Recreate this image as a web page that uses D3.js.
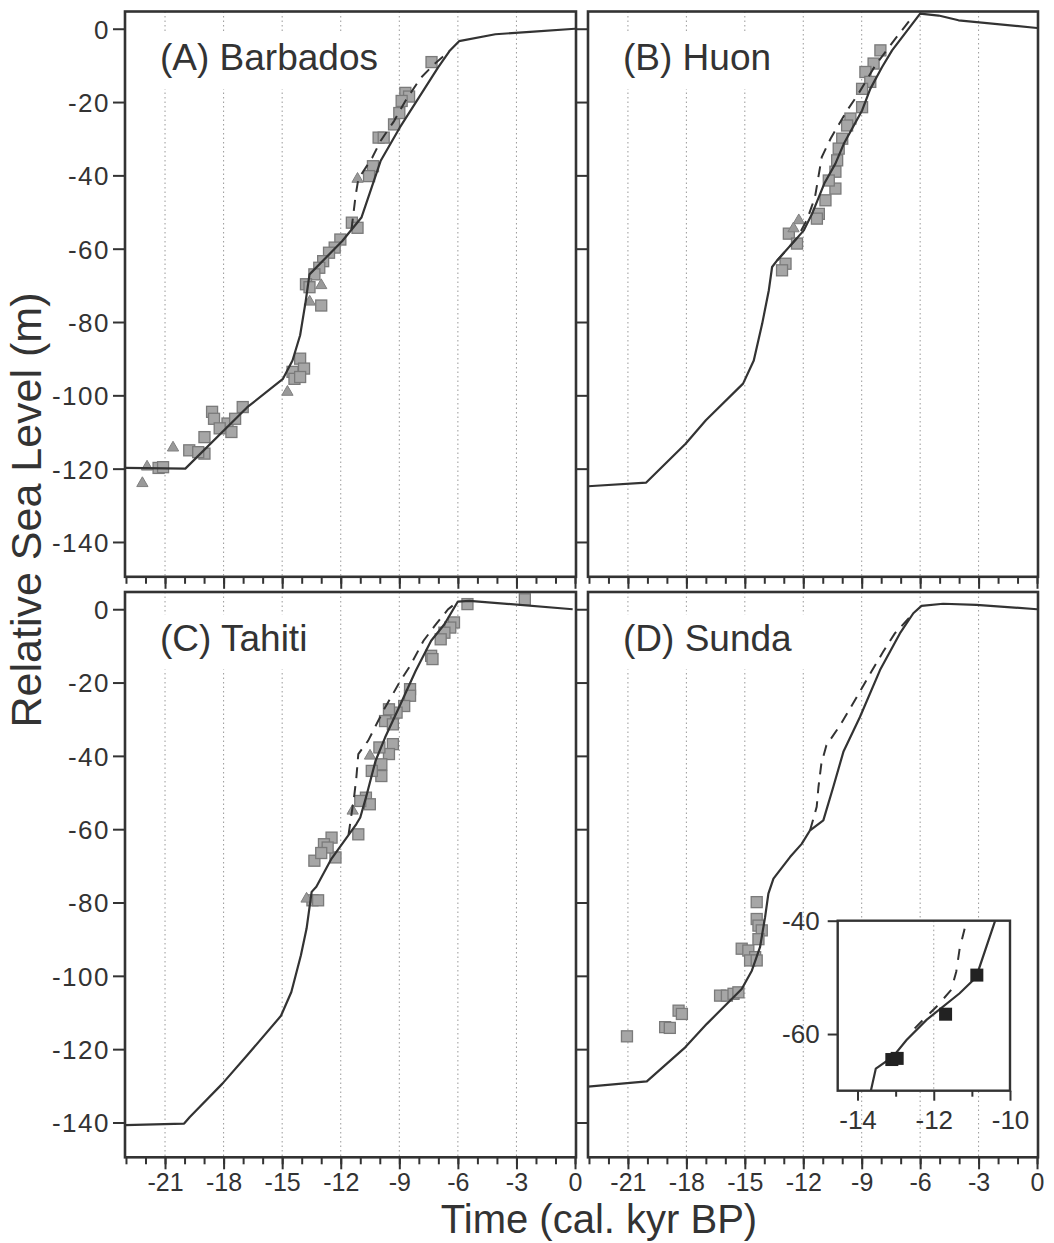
<!DOCTYPE html>
<html><head><meta charset="utf-8">
<script src="https://cdn.jsdelivr.net/npm/d3@7"></script>
<style>
body{margin:0;background:#fff}
svg{display:block;background:#fff}
text{font-family:"Liberation Sans",Arial,Helvetica,sans-serif;fill:#333}
</style>
</head><body>
<svg id="chart" width="1054" height="1243"></svg>
<script>
// ---------------- data ----------------
const xMajorTicks = [-21,-18,-15,-12,-9,-6,-3,0];
const xMinorTicks = d3.range(-23,1);
const xGridTicks = [-21,-18,-15,-12,-9,-6,-3];
const yTicks = [0,-20,-40,-60,-80,-100,-120,-140];
const panelNames = ["(A) Barbados","(B) Huon","(C) Tahiti","(D) Sunda"];
const xTitle = "Time (cal. kyr BP)";
const yTitle = "Relative Sea Level (m)";

const barbadosModel = [[-23.05,-119.8],[-19.96,-120],[-16.8,-103.3],[-14.96,-95.5],[-14.47,-90.5],[-14.08,-83.6],[-13.8,-74.5],[-13.6,-67],[-11.92,-57.9],[-10.94,-51.5],[-9.96,-36.1],[-8.98,-27],[-8.0,-18.8],[-7.02,-10.6],[-6.43,-6.1],[-5.94,-3.4],[-4.08,-1.5],[-2.12,-0.8],[0,0]];
const barbadosDashed = [[-11.45,-54.8],[-11.24,-45.6],[-11.1,-41],[-10.39,-35.2],[-9.96,-30.6],[-9.27,-25.2],[-8.69,-19.7],[-7.9,-13.4],[-7.22,-9.7],[-6.43,-6.1]];
const barbadosSquares = [[-7.35,-9.1],[-8.69,-17.5],[-8.5,-18.5],[-8.88,-19.7],[-9.0,-23],[-9.27,-26.1],[-10.06,-29.7],[-9.8,-29.7],[-10.35,-37.5],[-10.55,-40.2],[-11.43,-52.9],[-11.14,-54.3],[-12.02,-57.5],[-12.31,-59.7],[-12.6,-61.1],[-12.9,-63.4],[-13.1,-65.2],[-13.35,-67],[-13.78,-69.7],[-13.6,-70.5],[-13.0,-75.5],[-14.08,-90],[-13.88,-92.7],[-14.47,-93.6],[-14.37,-95.5],[-14.08,-95],[-17.02,-103.2],[-18.59,-104.5],[-18.49,-106.4],[-17.8,-107.7],[-18.2,-109],[-17.41,-106.4],[-17.6,-110],[-18.98,-111.4],[-19.76,-115],[-18.98,-115.9],[-19.3,-115.5],[-21.33,-119.8],[-21.1,-119.6]];
const barbadosTriangles = [[-11.14,-41],[-13.0,-70],[-13.59,-74.5],[-14.73,-99.1],[-20.59,-114.3],[-21.92,-119.5],[-22.16,-124]];

const huonModel = [[-23.05,-124.8],[-20.06,-123.8],[-18.04,-113.2],[-17.0,-106.8],[-15.09,-96.8],[-14.54,-90.5],[-14.11,-80.5],[-13.77,-71.4],[-13.6,-65],[-13.34,-63.2],[-11.97,-55],[-11.55,-50.5],[-10.9,-42],[-10.35,-36.8],[-9.92,-31.4],[-8.98,-22.3],[-8.56,-16.4],[-7.96,-10.5],[-7.44,-5.9],[-6.0,4.1],[-5.05,3.6],[-4.03,2.3],[0,0.2]];
const huonDashed = [[-13.34,-63.2],[-12.3,-57],[-11.8,-52],[-11.4,-46],[-11.05,-35],[-10.6,-30],[-9.8,-22.7],[-9.2,-18],[-8.3,-10],[-7.27,-2.7],[-6.5,2.5]];
const huonSquares = [[-8.04,-5.9],[-8.39,-9.5],[-8.81,-11.8],[-8.56,-14.5],[-8.98,-16.4],[-8.98,-21.4],[-9.58,-24.5],[-9.75,-26.4],[-10.0,-30],[-10.18,-32.7],[-10.26,-35.9],[-10.35,-39],[-10.35,-43.6],[-10.69,-41.4],[-10.86,-46.8],[-11.2,-50.5],[-11.3,-51.8],[-12.74,-55.9],[-12.32,-58.6],[-12.91,-64.1],[-13.09,-65.9]];
const huonTriangles = [[-12.23,-52.3],[-12.5,-54.5]];

const tahitiModel = [[-23.05,-140.7],[-20.02,-140.3],[-19.73,-138.5],[-18.06,-129.4],[-16.78,-121.6],[-15.06,-110.9],[-14.53,-104.4],[-14.04,-94.4],[-13.75,-87.1],[-13.49,-77.1],[-13.25,-75.7],[-12.47,-68],[-11.2,-58.6],[-11.0,-56.8],[-10.71,-51.4],[-10.22,-41.4],[-9.73,-35],[-8.94,-25.9],[-8.16,-16.8],[-7.37,-8.6],[-6.69,-4.1],[-6.0,2.1],[-5.41,2.3],[-0.12,0]];
const tahitiDashed = [[-11.6,-61.5],[-11.3,-50.5],[-11.2,-45.9],[-11.1,-39.5],[-10.6,-35.9],[-9.8,-27.5],[-8.94,-19.5],[-8.45,-15.5],[-7.76,-8.6],[-7.18,-4.5],[-6.5,0],[-6.0,2.1]];
const tahitiSquares = [[-6.2,-3.6],[-6.39,-5],[-6.69,-6.4],[-6.88,-8.2],[-7.37,-12.7],[-7.3,-13.6],[-8.45,-21.8],[-8.45,-23.6],[-8.75,-26.4],[-9.14,-28.2],[-9.53,-27.3],[-9.73,-30.5],[-9.33,-31.4],[-9.33,-36.8],[-9.53,-39.5],[-10.02,-37.7],[-9.92,-42.3],[-9.92,-45.5],[-10.41,-44.1],[-10.71,-51.4],[-10.51,-53.2],[-11.0,-52.3],[-11.1,-61.4],[-12.47,-62.3],[-12.86,-64.1],[-13.35,-68.6],[-12.27,-67.7],[-12.67,-65],[-13.0,-66.5],[-13.45,-79.4],[-13.16,-79.4],[-5.51,1.4],[-2.57,2.7]];
const tahitiTriangles = [[-10.5,-40],[-11.39,-55],[-13.75,-79]];

const sundaModel = [[-23.05,-130.2],[-20.03,-128.8],[-18.06,-119.5],[-16.95,-113.1],[-15.16,-103.6],[-14.64,-98.6],[-14.22,-92.2],[-13.96,-84],[-13.79,-77.6],[-13.53,-73.5],[-12.68,-67.6],[-12.08,-64],[-11.65,-60.3],[-10.97,-57.6],[-10.46,-48.5],[-9.94,-38.9],[-9.09,-29.4],[-8.06,-16.6],[-7.04,-6.6],[-6.35,-1.1],[-5.93,0.9],[-4.82,1.5],[-3.11,1.2],[0,0]];
const sundaDashed = [[-11.65,-60.3],[-11.31,-53.9],[-11.22,-48.5],[-11.07,-42.1],[-10.81,-37.1],[-10.1,-31.6],[-9.6,-27.1],[-9.0,-21.6],[-8.5,-17],[-7.9,-11.6],[-7.3,-6.6],[-6.35,-1.1]];
const sundaSquares = [[-14.39,-79.9],[-14.39,-84.5],[-14.3,-86.3],[-14.13,-87.6],[-14.3,-90],[-15.16,-92.6],[-14.82,-93.1],[-14.47,-94.9],[-14.73,-95.8],[-14.39,-95.8],[-16.27,-105.4],[-15.92,-105.4],[-15.58,-104.9],[-15.33,-104.5],[-18.4,-109.5],[-18.23,-110.4],[-19.09,-114],[-18.85,-114.2],[-21.05,-116.5]];
const sundaTriangles = [];

const insetXTicks = [-14,-12,-10];
const insetXMinor = [-13,-11];
const insetYTicks = [-40,-60];
const insetModel = [[-13.65,-70],[-13.52,-66.1],[-13.07,-64],[-12.72,-61.1],[-12.19,-57.5],[-11.32,-52.8],[-10.97,-50.5],[-10.84,-49],[-10.4,-40.2],[-10.3,-38]];
const insetDashed = [[-12.5,-59],[-12.28,-57.5],[-11.93,-55.2],[-11.54,-52.2],[-11.41,-49],[-11.32,-44.9],[-11.19,-41.4]];
const insetPoints = [[-13.1,-64.5],[-12.96,-64.3],[-11.69,-56.5],[-10.87,-49.6]];

// ---------------- layout ----------------
const svg = d3.select("#chart");
const colRange = [[125,576],[588,1038]];
const rowRange = [[11.5,576.8],[592,1157.3]];
const xDomain = [-23.05,0.05];
const yDomain = [-149.5,4.7];
const ink = "#333";
const fmt = d => String(d);   // plain hyphen-minus as in the original

const panels = [
  {name:panelNames[0],c:0,r:0,model:barbadosModel,dashed:barbadosDashed,sq:barbadosSquares,tri:barbadosTriangles},
  {name:panelNames[1],c:1,r:0,model:huonModel,dashed:huonDashed,sq:huonSquares,tri:huonTriangles},
  {name:panelNames[2],c:0,r:1,model:tahitiModel,dashed:tahitiDashed,sq:tahitiSquares,tri:tahitiTriangles},
  {name:panelNames[3],c:1,r:1,model:sundaModel,dashed:sundaDashed,sq:sundaSquares,tri:sundaTriangles}
];

const defs = svg.append("defs");

function styleAxis(g, fs, keepText){
  g.select(".domain").remove();
  g.selectAll(".tick line").attr("stroke",ink).attr("stroke-width",2);
  if(!keepText){ g.selectAll(".tick text").remove(); return; }
  g.selectAll(".tick text").attr("fill",ink).style("font-size",fs+"px").style("font-family",'"Liberation Sans",Arial,sans-serif');
}

panels.forEach((p,i)=>{
  const x = d3.scaleLinear().domain(xDomain).range(colRange[p.c]);
  const y = d3.scaleLinear().domain(yDomain).range([rowRange[p.r][1],rowRange[p.r][0]]);
  const x0=colRange[p.c][0], x1=colRange[p.c][1], y0=rowRange[p.r][0], y1=rowRange[p.r][1];
  const g = svg.append("g");
  defs.append("clipPath").attr("id","clip"+i).append("rect").attr("x",x0).attr("y",y0).attr("width",x1-x0).attr("height",y1-y0);

  g.selectAll(".grid").data(xGridTicks).join("line")
    .attr("x1",d=>x(d)).attr("x2",d=>x(d)).attr("y1",y0).attr("y2",y1)
    .attr("stroke","#999").attr("stroke-width",1).attr("stroke-dasharray","1.5,3");

  const lab = g.append("text").attr("x",x0+35).attr("y",y0+58.5).text(p.name)
    .style("font-size","37px").attr("fill",ink);
  const bb = lab.node().getBBox();
  g.insert("rect","text").attr("x",bb.x-12).attr("y",bb.y-3).attr("width",bb.width+24).attr("height",bb.height+14).attr("fill","#fff");

  const plot = g.append("g").attr("clip-path","url(#clip"+i+")");
  plot.selectAll(".sq").data(p.sq).join("rect")
    .attr("x",d=>x(d[0])-5.5).attr("y",d=>y(d[1])-5.5).attr("width",11).attr("height",11)
    .attr("fill","#a6a6a6").attr("stroke","#7a7a7a").attr("stroke-width",1.3);
  plot.selectAll(".tri").data(p.tri).join("path")
    .attr("transform",d=>`translate(${x(d[0])},${y(d[1])})`)
    .attr("d",d3.symbol(d3.symbolTriangle).size(55))
    .attr("fill","#999").attr("stroke","#808080").attr("stroke-width",1);
  const line = d3.line().x(d=>x(d[0])).y(d=>y(d[1]));
  plot.append("path").datum(p.dashed).attr("d",line).attr("fill","none")
    .attr("stroke",ink).attr("stroke-width",2).attr("stroke-dasharray","11,8");
  plot.append("path").datum(p.model).attr("d",line).attr("fill","none")
    .attr("stroke",ink).attr("stroke-width",2.2).attr("stroke-linejoin","round");

  const minor = g.append("g").attr("transform",`translate(0,${y1})`)
    .call(d3.axisBottom(x).tickValues(xMinorTicks).tickSize(7));
  styleAxis(minor,25,false);
  const major = g.append("g").attr("transform",`translate(0,${y1})`)
    .call(d3.axisBottom(x).tickValues(xMajorTicks).tickSize(12).tickPadding(4).tickFormat(fmt));
  styleAxis(major,25,p.r===1);
  const left = g.append("g").attr("transform",`translate(${x0},0)`)
    .call(d3.axisLeft(y).tickValues(yTicks).tickSize(12).tickPadding(3).tickFormat(fmt));
  styleAxis(left,26,p.c===0);
  left.selectAll(".tick text").attr("dy","0.36em").style("letter-spacing","1.5px");

  g.append("rect").attr("x",x0).attr("y",y0).attr("width",x1-x0).attr("height",y1-y0)
    .attr("fill","none").attr("stroke",ink).attr("stroke-width",2.6);

  if(i===3){
    const ix = d3.scaleLinear().domain([-14.52,-10]).range([837.7,1010]);
    const iy = d3.scaleLinear().domain([-70,-40]).range([1090.7,920.7]);
    const ig = svg.append("g");
    defs.append("clipPath").attr("id","clipInset").append("rect").attr("x",837.7).attr("y",920.7).attr("width",1010-837.7).attr("height",170);
    ig.append("rect").attr("x",837.7).attr("y",920.7).attr("width",1010-837.7).attr("height",170).attr("fill","#fff");
    ig.append("line").attr("x1",ix(-12)).attr("x2",ix(-12)).attr("y1",920.7).attr("y2",1090.7)
      .attr("stroke","#999").attr("stroke-width",1).attr("stroke-dasharray","1.5,3");
    const ip = ig.append("g").attr("clip-path","url(#clipInset)");
    const iline = d3.line().x(d=>ix(d[0])).y(d=>iy(d[1]));
    ip.append("path").datum(insetDashed).attr("d",iline).attr("fill","none").attr("stroke",ink).attr("stroke-width",2).attr("stroke-dasharray","11,10");
    ip.append("path").datum(insetModel).attr("d",iline).attr("fill","none").attr("stroke",ink).attr("stroke-width",2.2);
    ip.selectAll(".ipt").data(insetPoints).join("rect")
      .attr("x",d=>ix(d[0])-6.5).attr("y",d=>iy(d[1])-6.5).attr("width",13).attr("height",13).attr("fill","#222");
    const ib = ig.append("g").attr("transform","translate(0,1090.7)")
      .call(d3.axisBottom(ix).tickValues(insetXTicks).tickSize(10).tickPadding(10).tickFormat(fmt));
    styleAxis(ib,26,true);
    const ibm = ig.append("g").attr("transform","translate(0,1090.7)")
      .call(d3.axisBottom(ix).tickValues(insetXMinor).tickSize(6));
    styleAxis(ibm,25,false);
    const il = ig.append("g").attr("transform","translate(837.7,0)")
      .call(d3.axisLeft(iy).tickValues(insetYTicks).tickSize(10).tickPadding(8).tickFormat(fmt));
    styleAxis(il,26,true);
    ig.append("rect").attr("x",837.7).attr("y",920.7).attr("width",1010-837.7).attr("height",170)
      .attr("fill","none").attr("stroke",ink).attr("stroke-width",2.4);
  }
});

svg.append("text").attr("x",599).attr("y",1233).attr("text-anchor","middle")
  .style("font-size","40px").attr("fill",ink).text(xTitle);
svg.append("text").attr("transform","translate(41,510) rotate(-90)").attr("text-anchor","middle")
  .style("font-size","43px").attr("fill",ink).text(yTitle);
</script>
</body></html>
